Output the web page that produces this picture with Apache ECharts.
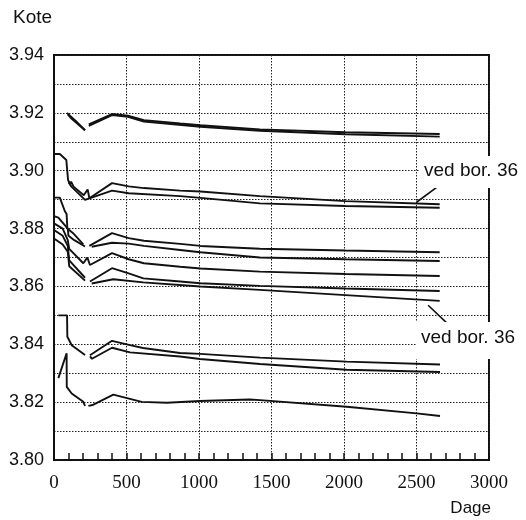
<!DOCTYPE html>
<html>
<head>
<meta charset="UTF-8" />
<title>Kote - Dage</title>
<script src="https://cdn.jsdelivr.net/npm/echarts@6/dist/echarts.min.js"></script>
<style>
  body { margin: 0; background: #fff; }
  #chart { width: 526px; height: 520px; }
</style>
</head>
<body>
<div id="chart"></div>
<script>
// [dage, kote] per maaleserie, null = ingen maaling (brud i kurven)
var topUpper = [[90,3.9200],[110,3.9190],[150,3.9172],[214,3.9140],[228,null],[240,3.9160],[400,3.9196],[510,3.9190],[620,3.9175],[870,3.9163],[1010,3.9157],[1420,3.9143],[2010,3.9133],[2660,3.9127]];
var topLower = [[95,3.9195],[120,3.9180],[214,3.9140],[228,null],[240,3.9155],[400,3.9192],[510,3.9186],[620,3.9170],[1010,3.9152],[1420,3.9138],[2010,3.9126],[2660,3.9118]];
var bor36Upper = [[0,3.9058],[40,3.9058],[85,3.9037],[97,3.8968],[110,3.8955],[118,3.8962],[135,3.8945],[205,3.8915],[232,3.8935],[244,3.8905],[400,3.8957],[515,3.8946],[620,3.8940],[870,3.8931],[1010,3.8928],[1420,3.8912],[2010,3.8895],[2660,3.8884]];
var bor36Lower = [[100,3.8960],[120,3.8945],[214,3.8899],[400,3.8931],[515,3.8922],[870,3.8912],[1010,3.8906],[1420,3.8887],[2010,3.8878],[2660,3.8872]];
var mid1 = [[0,3.8907],[40,3.8907],[75,3.8860],[87,3.8850],[92,3.8800],[130,3.8785],[202,3.8745],[222,null],[244,3.8740],[400,3.8784],[515,3.8767],[620,3.8758],[870,3.8747],[1010,3.8740],[1420,3.8730],[2010,3.8724],[2660,3.8718]];
var mid2 = [[0,3.8843],[30,3.8838],[95,3.8800],[100,3.8775],[140,3.8760],[214,3.8738],[236,null],[260,3.8737],[400,3.8751],[515,3.8748],[620,3.8740],[870,3.8726],[1010,3.8718],[1420,3.8700],[2010,3.8694],[2660,3.8688]];
var mid3 = [[0,3.8818],[60,3.8800],[95,3.8760],[105,3.8730],[202,3.8680],[230,3.8700],[248,3.8674],[400,3.8715],[515,3.8694],[620,3.8680],[870,3.8668],[1010,3.8662],[1420,3.8651],[2010,3.8643],[2660,3.8636]];
var mid4 = [[0,3.8795],[60,3.8775],[95,3.8740],[105,3.8690],[214,3.8630],[230,null],[248,3.8617],[400,3.8663],[515,3.8645],[616,3.8628],[870,3.8617],[1010,3.8611],[1420,3.8602],[2010,3.8593],[2660,3.8584]];
var mid5 = [[0,3.8766],[60,3.8745],[95,3.8720],[105,3.8670],[214,3.8620],[236,null],[260,3.8610],[409,3.8625],[616,3.8614],[1010,3.8600],[1420,3.8588],[2010,3.8570],[2660,3.8550]];
var low1 = [[30,3.8500],[90,3.8500],[92,3.8426],[122,3.8397],[214,3.8363],[230,null],[248,3.8362],[400,3.8412],[524,3.8397],[614,3.8387],[869,3.8370],[1007,3.8367],[1421,3.8354],[2018,3.8340],[2662,3.8330]];
var low2 = [[248,3.8358],[262,3.8350],[400,3.8388],[524,3.8372],[869,3.8358],[1007,3.8349],[1421,3.8332],[2018,3.8312],[2662,3.8304]];
var bottom = [[30,3.8283],[87,3.8369],[88,3.8253],[122,3.8230],[202,3.8201],[214,3.8187],[226,null],[237,3.8187],[265,3.8190],[409,3.8226],[605,3.8201],[777,3.8198],[1007,3.8204],[1350,3.8209],[1421,3.8207],[2018,3.8184],[2501,3.8161],[2662,3.8152]];

// henvisningsstreger til "ved bor. 36"
var leaderUpper = [[2660,3.8950],[2500,3.8891]];
var leaderLower = [[2580,3.8535],[2710,3.8473]];

var yTicks = { min: 3.80, max: 3.94, step: 0.02 };
var xTicks = { min: 0, max: 3000, step: 500 };

var allSeries = [topUpper, topLower, bor36Upper, bor36Lower, mid1, mid2, mid3, mid4, mid5, low1, low2, bottom];

var chart = echarts.init(document.getElementById('chart'));

var series = allSeries.map(function (d) {
  return {
    type: 'line',
    data: d,
    showSymbol: false,
    connectNulls: false,
    lineStyle: { color: '#111', width: 1.9 },
    z: 3
  };
});

series.push({
  type: 'line',
  data: [],
  markLine: {
    silent: true,
    symbol: 'none',
    label: { show: false },
    lineStyle: { color: '#111', width: 1.6, type: 'solid' },
    data: [
      [{ coord: leaderUpper[0] }, { coord: leaderUpper[1] }],
      [{ coord: leaderLower[0] }, { coord: leaderLower[1] }]
    ]
  }
});

var gridDots = { show: true, lineStyle: { color: '#222', width: 1, type: [1.5, 1.5] } };

var option = {
  animation: false,
  backgroundColor: '#fff',
  grid: {
    left: 54, right: 37, top: 55, bottom: 60,
    show: true, borderColor: '#111', borderWidth: 2
  },
  xAxis: {
    type: 'value',
    min: xTicks.min, max: xTicks.max, interval: xTicks.step,
    axisLine: { lineStyle: { color: '#111', width: 2 } },
    axisTick: { inside: true, length: 7, lineStyle: { color: '#111', width: 1.5 } },
    minorTick: { show: true, splitNumber: 5, length: 7, lineStyle: { color: '#111', width: 1.5 } },
    splitLine: gridDots,
    axisLabel: {
      color: '#111', margin: 14,
      fontFamily: 'Liberation Serif', fontSize: 19,
      formatter: function (v) { return String(v); }
    }
  },
  yAxis: {
    type: 'value',
    min: yTicks.min, max: yTicks.max, interval: yTicks.step,
    axisLine: { show: true, lineStyle: { color: '#111', width: 2 } },
    axisTick: { show: false },
    splitLine: gridDots,
    minorSplitLine: gridDots,
    minorTick: { show: false, splitNumber: 2 },
    axisLabel: {
      color: '#111', margin: 10,
      fontFamily: 'Liberation Sans', fontSize: 18,
      formatter: function (v) { return v.toFixed(2); }
    }
  },
  graphic: [
    { type: 'text', left: 13, top: 8,
      style: { text: 'Kote', font: '19px Liberation Sans', fill: '#111' } },
    { type: 'text', right: 35, top: 500,
      style: { text: 'Dage', font: '17px Liberation Sans', fill: '#111' } },
    { type: 'text', left: 419, top: 156, z: 10,
      style: { text: 'ved bor. 36', font: '19px Liberation Sans', fill: '#111',
               backgroundColor: '#fff', padding: [5, 2, 8, 5] } },
    { type: 'text', left: 416, top: 322, z: 10,
      style: { text: 'ved bor. 36', font: '19px Liberation Sans', fill: '#111',
               backgroundColor: '#fff', padding: [6, 2, 12, 5] } }
  ],
  series: series
};

chart.setOption(option);
</script>
</body>
</html>
